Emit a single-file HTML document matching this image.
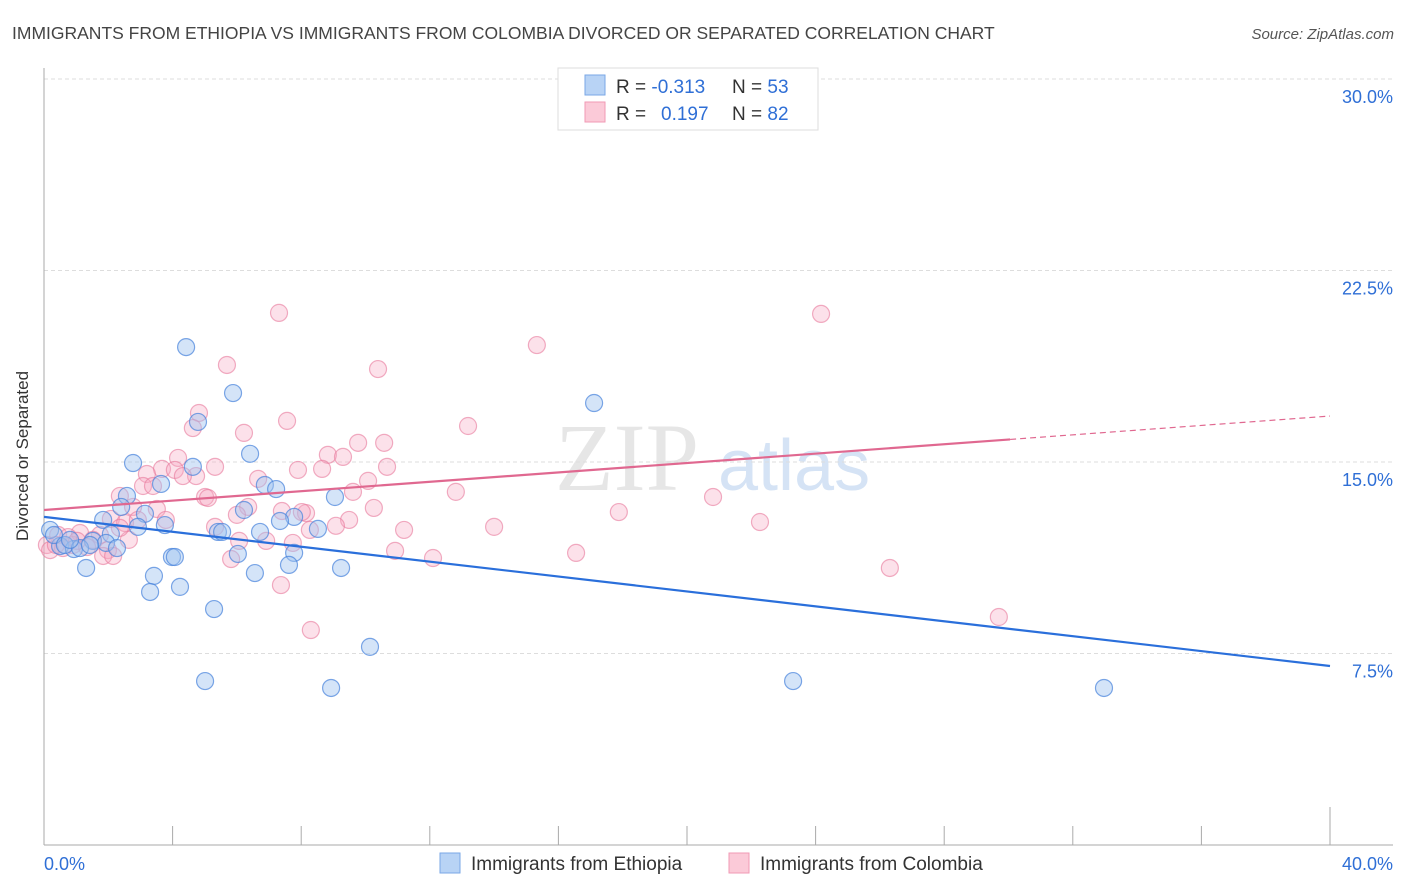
<!DOCTYPE html>
<html><head><meta charset="utf-8"><style>
body{margin:0;background:#fff;font-family:"Liberation Sans",sans-serif}
#wrap{position:relative;width:1406px;height:892px;overflow:hidden}
</style></head><body>
<div id="wrap">
<svg id="chart" width="1406" height="892" xmlns="http://www.w3.org/2000/svg">
<text x="12" y="39" font-size="17.5" fill="#444">IMMIGRANTS FROM ETHIOPIA VS IMMIGRANTS FROM COLOMBIA DIVORCED OR SEPARATED CORRELATION CHART</text>
<text x="1394" y="39" font-size="15" fill="#555" font-style="italic" text-anchor="end">Source: ZipAtlas.com</text>
<g>
<text x="555" y="490" font-family="Liberation Serif,serif" font-size="96" fill="#e6e6e6">ZIP</text>
<text x="718" y="490" font-size="72" fill="#d5e3f5">atlas</text>
</g>
<g id="grid"></g>
<g id="axes"></g>
<g id="pts"></g>
<g id="trends"></g>
<text x="28" y="456" font-size="17" fill="#333" text-anchor="middle" transform="rotate(-90 28 456)">Divorced or Separated</text>
<g>
<rect x="558" y="68" width="260" height="62" fill="#fff" stroke="#ddd"/>
<rect x="585" y="75" width="20" height="20" fill="#b8d3f5" stroke="#7aa7e6"/>
<text x="616" y="93" font-size="19" fill="#333">R = <tspan fill="#2f6fd6">-0.313</tspan><tspan x="732">N = </tspan><tspan fill="#2f6fd6">53</tspan></text>
<rect x="585" y="102" width="20" height="20" fill="#fbcad8" stroke="#f09ab5"/>
<text x="616" y="120" font-size="19" fill="#333">R = <tspan x="661" fill="#2f6fd6">0.197</tspan><tspan x="732">N = </tspan><tspan fill="#2f6fd6">82</tspan></text>
</g>
<g>
<rect x="440" y="853" width="20" height="20" fill="#b8d3f5" stroke="#7aa7e6"/>
<text x="471" y="870" font-size="19" fill="#333">Immigrants from Ethiopia</text>
<rect x="729" y="853" width="20" height="20" fill="#fbcad8" stroke="#f09ab5"/>
<text x="760" y="870" font-size="19" fill="#333">Immigrants from Colombia</text>
</g>
</svg>
</div>
<script>
const yTicks=[7.5,15,22.5,30];
const yTickLabels=["7.5%","15.0%","22.5%","30.0%"];
const xTicks=[0,4,8,12,16,20,24,28,32,36,40];
const xLabels=["0.0%","40.0%"];
const ethX=[4.42,5.88,17.11,4.79,6.41,2.77,4.63,3.64,6.87,7.22,2.58,9.05,2.40,3.14,1.84,6.22,7.78,7.34,3.76,2.92,5.41,5.54,6.72,8.52,2.08,1.52,0.50,0.93,1.93,2.27,3.98,4.07,6.03,7.78,1.31,3.42,6.56,7.62,9.24,4.23,3.30,5.29,10.14,5.01,8.93,23.30,32.97,0.19,0.31,0.65,1.12,1.43,0.81];
const ethY=[19.5,17.7,17.31,16.57,15.32,14.96,14.81,14.14,14.10,13.94,13.67,13.63,13.24,12.97,12.73,13.12,12.85,12.69,12.53,12.46,12.26,12.26,12.26,12.38,12.18,11.91,11.71,11.59,11.83,11.63,11.28,11.28,11.40,11.44,10.85,10.54,10.65,10.97,10.85,10.11,9.91,9.24,7.76,6.42,6.15,6.42,6.15,12.34,12.14,11.75,11.63,11.75,11.95];
const colX=[7.31,24.17,15.33,10.39,5.69,4.82,7.56,13.19,4.63,6.22,9.77,10.58,8.83,9.30,4.17,5.32,3.67,3.20,4.73,4.07,4.32,7.90,8.65,10.67,6.66,10.08,3.08,3.39,9.61,12.81,20.81,5.01,5.10,2.36,2.77,6.35,3.51,10.26,7.40,8.15,8.02,6.00,9.49,17.88,22.27,2.08,2.52,14.00,11.20,8.27,9.08,5.32,1.12,1.74,0.44,6.07,6.91,7.74,2.64,1.52,0.90,1.99,1.34,0.59,10.92,16.55,12.10,5.82,1.84,2.15,7.37,26.31,29.70,8.30,0.09,0.19,0.37,0.75,1.03,2.36,3.79,2.92];
const colY=[20.84,20.80,19.58,18.64,18.80,16.92,16.61,16.41,16.33,16.14,15.75,15.75,15.28,15.20,15.16,14.81,14.73,14.53,14.45,14.69,14.45,14.69,14.73,14.81,14.34,14.26,14.06,14.06,13.83,13.83,13.63,13.63,13.59,13.67,13.24,13.24,13.16,13.20,13.08,13.00,13.04,12.93,12.73,13.04,12.65,12.77,12.61,12.46,12.34,12.34,12.50,12.46,12.22,12.14,12.14,11.91,11.91,11.83,11.95,11.95,11.75,11.55,11.67,11.63,11.52,11.44,11.24,11.20,11.32,11.32,10.18,10.85,8.93,8.42,11.75,11.55,11.75,12.06,11.91,12.42,12.73,12.73];
const ethTrend=[12.85,7.01];
const colTrend=[13.12,16.80];
const colSolidEnd=30.05;

const X0=44,X1=1330,Y0=845,Y30=79;
const sx=v=>X0+v*(X1-X0)/40;
const sy=v=>Y0-v*(Y0-Y30)/30;
const NS="http://www.w3.org/2000/svg";
function mk(tag,attrs,parent){const e=document.createElementNS(NS,tag);for(const k in attrs)e.setAttribute(k,attrs[k]);parent.appendChild(e);return e;}
const grid=document.getElementById('grid'),axes=document.getElementById('axes'),pts=document.getElementById('pts'),trends=document.getElementById('trends');
yTicks.forEach((t,i)=>{
  const l=mk('line',{x1:X0,x2:1393,y1:sy(t),y2:sy(t),stroke:'#ddd','stroke-dasharray':'4,3'},grid);
  
  
  const tx=mk('text',{x:1393,y:sy(t)+24,'font-size':18,fill:'#2f6fd6','text-anchor':'end'},axes);
  tx.textContent=yTickLabels[i];
  
  
});
const ya=mk('line',{x1:X0,x2:X0,y1:68,y2:Y0,stroke:'#aaa'},axes);


const xa=mk('line',{x1:X0,x2:1393,y1:Y0,y2:Y0,stroke:'#aaa'},axes);


xTicks.forEach((t,i)=>{
  const tl=mk('line',{x1:sx(t),x2:sx(t),y1:(i===xTicks.length-1?807:826),y2:Y0,stroke:'#aaa'},axes);
  
  
});
const xl0=mk('text',{x:44,y:870,'font-size':18,fill:'#2f6fd6'},axes);xl0.textContent=xLabels[0];


const xl1=mk('text',{x:1393,y:870,'font-size':18,fill:'#2f6fd6','text-anchor':'end'},axes);xl1.textContent=xLabels[1];


colX.forEach((v,i)=>{
  const c=mk('circle',{cx:sx(v),cy:sy(colY[i]),r:8.5,fill:'rgba(247,170,195,0.35)',stroke:'rgba(232,120,155,0.6)','stroke-width':1.2},pts);
  
  
});
ethX.forEach((v,i)=>{
  const c=mk('circle',{cx:sx(v),cy:sy(ethY[i]),r:8.5,fill:'rgba(160,195,240,0.45)',stroke:'rgba(70,130,220,0.7)','stroke-width':1.2},pts);
  
  
});
const et=mk('line',{x1:sx(0),y1:sy(ethTrend[0]),x2:sx(40),y2:sy(ethTrend[1]),stroke:'#2a6fdb','stroke-width':2.2},trends);


const cm=colTrend[0]+(colTrend[1]-colTrend[0])*colSolidEnd/40;
const ct=mk('line',{x1:sx(0),y1:sy(colTrend[0]),x2:sx(colSolidEnd),y2:sy(cm),stroke:'#e06890','stroke-width':2.2},trends);


const cd=mk('line',{x1:sx(colSolidEnd),y1:sy(cm),x2:sx(40),y2:sy(colTrend[1]),stroke:'#e06890','stroke-width':1.2,'stroke-dasharray':'6,4'},trends);


</script>
</body></html>
